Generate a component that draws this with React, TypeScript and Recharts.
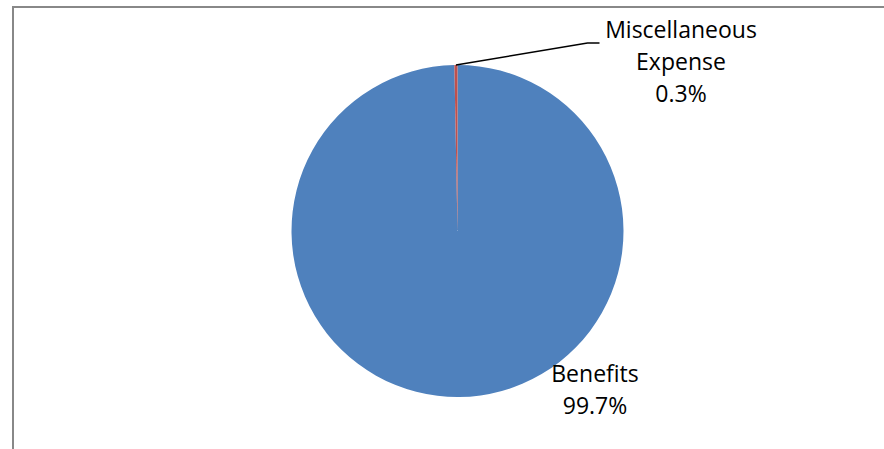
import React from 'react';
import { PieChart, Pie, Cell } from 'recharts';

const categories: string[] = ['Benefits', 'Miscellaneous Expense'];
const labelLines: string[][] = [['Benefits'], ['Miscellaneous', 'Expense']];
const values: number[] = [99.7, 0.3];
const colors: string[] = ['#4F81BD', '#C0504D'];

const data = categories.map((name, i) => ({ name, value: values[i] }));

// label placement relative to pie centre (dx, first-baseline dy)
const labelOffsets = [
  { dx: 137.5, dy: 151 },
  { dx: 223.5, dy: -193 },
];
const leaderElbow = { dx: 130, dy: -188, len: 12 };

const FONT = '"Open Sans", sans-serif';
const FONT_SIZE = 23;
const LINE_H = 32;
const RAD = Math.PI / 180;

const renderLabel = (props: any) => {
  const { cx, cy, index, percent } = props;
  const off = labelOffsets[index];
  const lines = [...labelLines[index], `${(percent * 100).toFixed(1)}%`];
  return (
    <text
      key={`lbl-${index}`}
      x={cx + off.dx}
      y={cy + off.dy}
      textAnchor="middle"
      fontFamily={FONT}
      fontSize={FONT_SIZE}
      fill="#000"
    >
      {lines.map((l, i) => (
        <tspan key={i} x={cx + off.dx} dy={i === 0 ? 0 : LINE_H}>
          {l}
        </tspan>
      ))}
    </text>
  );
};

const renderLabelLine = (props: any) => {
  const { cx, cy, midAngle, outerRadius, index } = props;
  if (index !== 1) return <g key={`ll-${index}`} />;
  const sx = cx + outerRadius * Math.cos(-midAngle * RAD);
  const sy = cy + outerRadius * Math.sin(-midAngle * RAD);
  const ex = cx + leaderElbow.dx;
  const ey = cy + leaderElbow.dy;
  return (
    <path
      key={`ll-${index}`}
      d={`M${sx},${sy} L${ex},${ey} L${ex + leaderElbow.len},${ey}`}
      stroke="#000"
      strokeWidth={1.5}
      fill="none"
    />
  );
};

export default function App() {
  return (
    <div
      style={{
        position: 'absolute',
        left: 0,
        top: 0,
        width: 884,
        height: 449,
        overflow: 'hidden',
        background: '#fff',
      }}
    >
      <div
        style={{
          position: 'absolute',
          left: 12,
          top: 6,
          width: 1000,
          height: 600,
          borderLeft: '2px solid #888888',
          borderTop: '2px solid #888888',
          boxSizing: 'border-box',
        }}
      />
      <div style={{ position: 'absolute', left: 0, top: 0 }}>
        <PieChart width={884} height={449} margin={{ top: 0, right: 0, bottom: 0, left: 0 }}>
          <Pie
            data={data}
            dataKey="value"
            nameKey="name"
            cx={457.5}
            cy={231}
            outerRadius={166}
            startAngle={90}
            endAngle={-270}
            stroke="none"
            label={renderLabel}
            labelLine={renderLabelLine}
            isAnimationActive={false}
          >
            {data.map((d, i) => (
              <Cell key={d.name} fill={colors[i]} />
            ))}
          </Pie>
        </PieChart>
      </div>
    </div>
  );
}
